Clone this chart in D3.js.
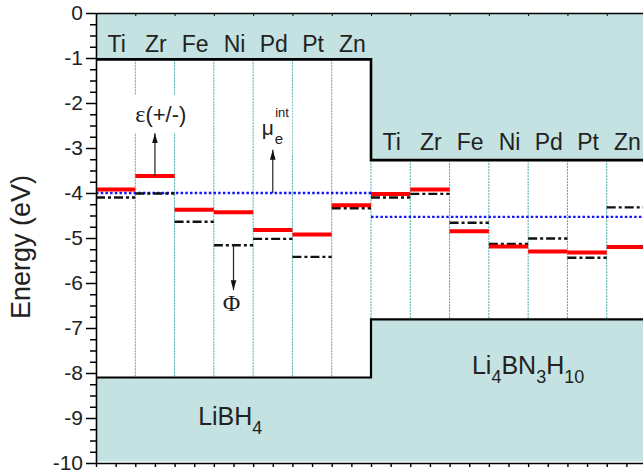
<!DOCTYPE html>
<html><head><meta charset="utf-8">
<script src="https://cdn.jsdelivr.net/npm/d3@7"></script>
<style>
body{margin:0;background:#fff}
svg{display:block;font-family:"Liberation Sans",Arial,sans-serif}
</style>
</head><body>
<svg id="c" width="643" height="476"></svg>
<script>
// ---- data ----
const metals = ["Ti","Zr","Fe","Ni","Pd","Pt","Zn"];
const compounds = ["LiBH4","Li4BN3H10"];
const epsLiBH4 = [-3.92,-3.62,-4.37,-4.43,-4.82,-4.92,-4.27];   // ε(+/-) red
const phiLiBH4 = [-4.10,-4.01,-4.64,-5.16,-5.02,-5.42,-4.34];   // Φ dash-dot
const epsLi4   = [-4.02,-3.92,-4.85,-5.19,-5.30,-5.32,-5.20];
const phiLi4   = [-4.10,-4.02,-4.66,-5.13,-5.01,-5.44,-4.32];
const muInt    = [-4.00,-4.53];          // μe^int per compound
const cbmEdge  = [-1.03,-3.27];          // top band edge
const vbmEdge  = [-8.10,-6.81];          // bottom band edge
const yMajor   = [0,-1,-2,-3,-4,-5,-6,-7,-8,-9,-10];

// ---- scales ----
const svg = d3.select("#c");
const x = d3.scaleLinear().domain([0,14]).range([96,646]);
const y = d3.scaleLinear().domain([0,-10]).range([13,463]);
const band = "#c4e2e1";

// bands
compounds.forEach((c,i)=>{
  const x0 = x(7*i), x1 = x(7*i+7);
  svg.append("rect").attr("x",x0).attr("y",y(0)).attr("width",x1-x0).attr("height",y(cbmEdge[i])-y(0)).attr("fill",band);
  svg.append("rect").attr("x",x0).attr("y",y(vbmEdge[i])).attr("width",x1-x0).attr("height",y(-10)-y(vbmEdge[i])-1.5).attr("fill",band);
});

// dividers in white region
for(let k=1;k<14;k++){
  const i = k<7?0:1;
  svg.append("line").attr("x1",x(k)).attr("x2",x(k))
    .attr("y1",y(cbmEdge[i])).attr("y2",y(vbmEdge[i]))
    .attr("stroke","#4aa9a8").attr("stroke-width",1).attr("stroke-dasharray","2,1");
}

// band edge lines
const edge = svg.append("g").attr("fill","none").attr("stroke","#000");
edge.append("path").attr("stroke-width",2.6)
  .attr("d",`M${x(0)},${y(cbmEdge[0])}H${x(7)}V${y(cbmEdge[1])}H${x(14)}`);
edge.append("path").attr("stroke-width",2.2)
  .attr("d",`M${x(0)},${y(vbmEdge[0])}H${x(7)}V${y(vbmEdge[1])}H${x(14)}`);

// column labels
compounds.forEach((c,i)=>{
  svg.append("g").selectAll("text").data(metals).join("text")
    .attr("x",(d,j)=>x(7*i+j+0.5)+1).attr("y",i===0?52:150)
    .attr("text-anchor","middle").attr("font-size",23).attr("fill","#222").text(d=>d);
});

// label backgrounds + labels
function bgText(g, pad){
  const b = g.node().getBBox();
  g.insert("rect",":first-child").attr("x",b.x-pad[0]).attr("y",b.y-pad[1])
   .attr("width",b.width+2*pad[0]).attr("height",b.height+pad[1]+pad[2]).attr("fill","#fff");
}
const epsG = svg.append("g");
const epsT = epsG.append("text").attr("x",x(1.65)).attr("y",y(-2.42)).attr("text-anchor","middle")
  .attr("font-size",22).attr("fill","#222");
epsT.append("tspan").attr("font-family","Liberation Serif, serif").attr("font-size",24).text("ε");
epsT.append("tspan").text("(+/-)");
bgText(epsG,[4,6,6]);

const muG = svg.append("g");
muG.append("text").attr("x",x(4.22)).attr("y",y(-2.7)).attr("font-size",21).attr("fill","#222").text("μ");
muG.append("text").attr("x",x(4.55)).attr("y",y(-2.9)).attr("font-size",15).attr("fill","#222").text("e");
muG.append("text").attr("x",x(4.56)).attr("y",y(-2.32)).attr("font-size",13).attr("fill","#222").text("int");
bgText(muG,[3,8,8]);

svg.append("text").attr("x",x(3.5)-2).attr("y",y(-6.62)).attr("text-anchor","middle")
  .attr("font-family","Liberation Serif, serif").attr("font-size",24).attr("fill","#222").text("Φ");

// compound labels
const l1 = svg.append("text").attr("x",x(2.6)).attr("y",y(-9.16)).attr("font-size",25).attr("fill","#222");
l1.append("tspan").text("LiBH");
l1.append("tspan").attr("font-size",18).attr("dy",9).text("4");
const l2 = svg.append("text").attr("x",x(9.57)).attr("y",y(-8.02)).attr("font-size",25).attr("fill","#222");
[["Li",0],["4",1],["BN",0],["3",1],["H",0],["10",1]].forEach(([t,s],k)=>{
  l2.append("tspan").attr("font-size",s?18:25).attr("dy",k===0?0:(s?9:-9)).text(t);
});

// μ lines (blue dotted)
muInt.forEach((v,i)=>{
  svg.append("line").attr("x1",x(7*i)).attr("x2",x(7*i+7)).attr("y1",y(v)).attr("y2",y(v))
    .attr("stroke","#1414ff").attr("stroke-width",2.4).attr("stroke-dasharray","2.5,2.2");
});

// Φ dash-dot lines
[phiLiBH4,phiLi4].forEach((arr,i)=>{
  svg.append("g").selectAll("line").data(arr).join("line")
    .attr("x1",(d,j)=>x(7*i+j)).attr("x2",(d,j)=>x(7*i+j+1))
    .attr("y1",d=>y(d)).attr("y2",d=>y(d))
    .attr("stroke","#111").attr("stroke-width",2.4).attr("stroke-dasharray","9,3,3,3");
});
// ε red lines
[epsLiBH4,epsLi4].forEach((arr,i)=>{
  svg.append("g").selectAll("line").data(arr).join("line")
    .attr("x1",(d,j)=>x(7*i+j)).attr("x2",(d,j)=>x(7*i+j+1))
    .attr("y1",d=>y(d)).attr("y2",d=>y(d))
    .attr("stroke","#ff0000").attr("stroke-width",4);
});

// arrows
const defs = svg.append("defs");
defs.append("marker").attr("id","ah").attr("viewBox","0 -5 10 10").attr("refX",10).attr("refY",0)
  .attr("markerUnits","userSpaceOnUse").attr("markerWidth",10).attr("markerHeight",10).attr("orient","auto")
  .append("path").attr("d","M0,-2.8L10,0L0,2.8Z").attr("fill","#111");
const arrows = [
  {col:1, from:epsLiBH4[1], to:-2.67},
  {col:4, from:muInt[0], to:-3.04},
  {col:3, from:phiLiBH4[3], to:-6.16}
];
svg.append("g").selectAll("line").data(arrows).join("line")
  .attr("x1",d=>x(d.col+0.5)).attr("x2",d=>x(d.col+0.5))
  .attr("y1",d=>y(d.from)).attr("y2",d=>y(d.to))
  .attr("stroke","#222").attr("stroke-width",1.2).attr("marker-end","url(#ah)");

// axes
const yAxis = svg.append("g").attr("transform",`translate(${x(0)},0)`)
  .call(d3.axisLeft(y).tickValues(yMajor).tickSize(10).tickSizeOuter(0).tickPadding(3).tickFormat(d=>String(d)));
yAxis.select(".domain").attr("stroke-width",1.6);
yAxis.selectAll(".tick line").attr("stroke-width",1.5);
yAxis.selectAll("text").attr("font-size",21).attr("fill","#222").attr("font-family","Liberation Sans, Arial, sans-serif");
const minor = d3.range(0,-10.001,-0.25).filter(v=>Math.abs(v-Math.round(v))>1e-6);
const yMin = svg.append("g").attr("transform",`translate(${x(0)},0)`)
  .call(d3.axisLeft(y).tickValues(minor).tickSize(6).tickSizeOuter(0).tickFormat(""));
yMin.select(".domain").remove();
yMin.selectAll(".tick line").attr("stroke-width",1.5);

const xb = svg.append("g").attr("transform",`translate(0,${y(-10)})`)
  .call(d3.axisBottom(x).tickValues(d3.range(0,14.01,0.5)).tickSize(4).tickSizeOuter(0).tickFormat(""));
xb.select(".domain").attr("stroke-width",1.6);
xb.selectAll(".tick line").attr("stroke-width",1.4);
const xt = svg.append("g").attr("transform",`translate(0,${y(0)})`)
  .call(d3.axisTop(x).tickValues(d3.range(0,14.01,1)).tickSize(-3).tickSizeOuter(0).tickFormat(""));
xt.select(".domain").attr("stroke-width",1.4);

// y title
svg.append("text").attr("transform",`translate(30,${y(-5.2)}) rotate(-90)`)
  .attr("text-anchor","middle").attr("font-size",27).attr("fill","#222").text("Energy (eV)");
</script>
</body></html>
